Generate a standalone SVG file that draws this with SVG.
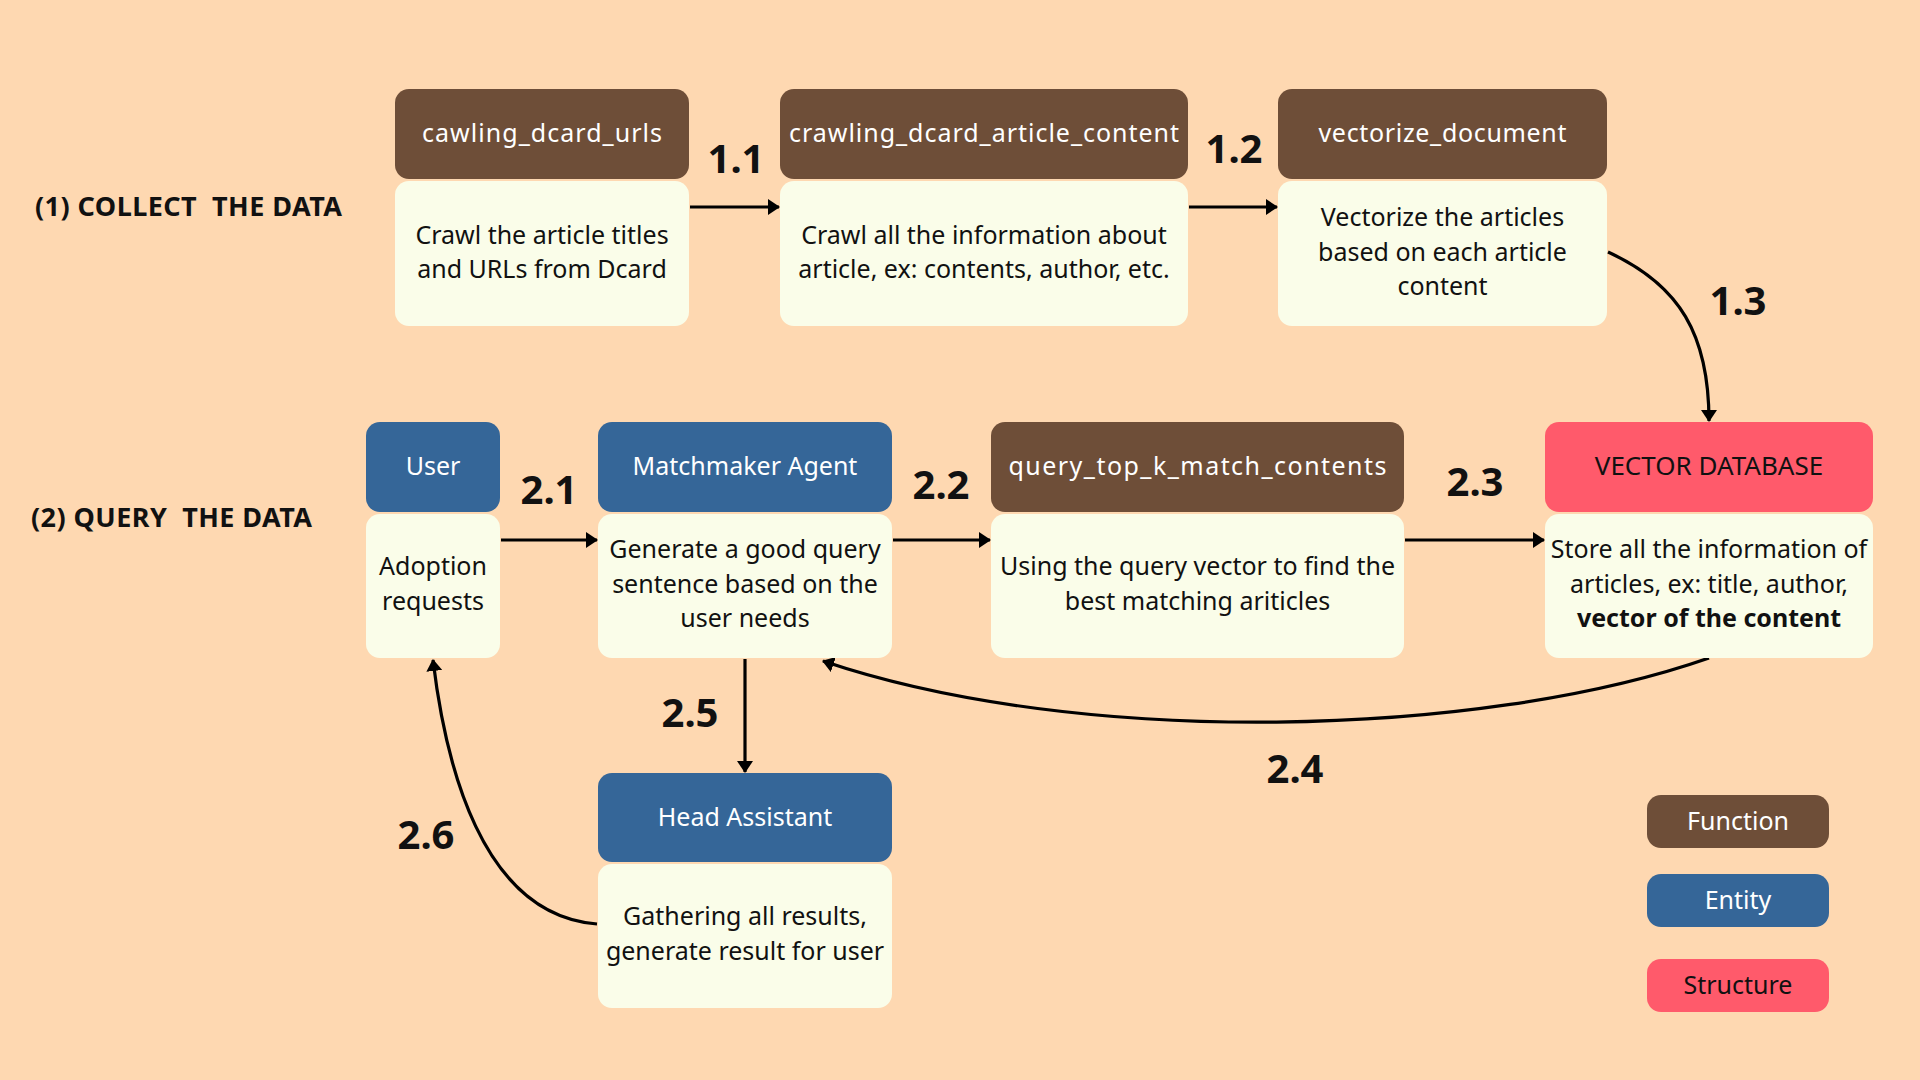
<svg xmlns="http://www.w3.org/2000/svg" width="1920" height="1080" viewBox="0 0 1920 1080">
<defs>
<style>
.bg{fill:#FED8B1}
.fn{fill:#6E4E38}
.en{fill:#356698}
.st{fill:#FF5A6B}
.body{fill:#FAFDE9}
.ht{font-family:"Noto Sans","Open Sans",sans-serif;font-size:25px;fill:#FFFFFF;text-anchor:middle}
.htd{font-family:"Noto Sans","Open Sans",sans-serif;font-size:26px;fill:#111111;text-anchor:middle}
.bt{font-family:"Noto Sans","Open Sans",sans-serif;font-size:25px;fill:#111111;text-anchor:middle}
.btb{font-family:"Noto Sans","Open Sans",sans-serif;font-size:25px;font-weight:bold;fill:#111111;text-anchor:middle}
.sec{font-family:"Noto Sans","Open Sans",sans-serif;font-size:27px;font-weight:bold;fill:#111111;white-space:pre}
.num{font-family:"Noto Sans","Open Sans",sans-serif;font-size:40px;font-weight:bold;fill:#111111;text-anchor:middle}
.lg{font-family:"Noto Sans","Open Sans",sans-serif;font-size:25px;text-anchor:middle}
.con{fill:none;stroke:#000000;stroke-width:3.2}
</style>
<marker id="ah" viewBox="0 0 12 16" refX="11" refY="8" markerWidth="12" markerHeight="16" markerUnits="userSpaceOnUse" orient="auto">
<path d="M0,0 L12,8 L0,16 z" fill="#000000"/>
</marker>
</defs>
<rect class="bg" x="0" y="0" width="1920" height="1080"/>

<text class="sec" x="35" y="216" textLength="307" lengthAdjust="spacing" xml:space="preserve">(1) COLLECT  THE DATA</text>
<text class="sec" x="31" y="527" textLength="281" lengthAdjust="spacing" xml:space="preserve">(2) QUERY  THE DATA</text>

<g id="connectors">
<path class="con" d="M690,207 L779,207" marker-end="url(#ah)"/>
<path class="con" d="M1189,207 L1277,207" marker-end="url(#ah)"/>
<path class="con" d="M1608,252 C1680,285 1709,335 1709,421" marker-end="url(#ah)"/>
<path class="con" d="M501,540 L597,540" marker-end="url(#ah)"/>
<path class="con" d="M893,540 L990,540" marker-end="url(#ah)"/>
<path class="con" d="M1405,540 L1544,540" marker-end="url(#ah)"/>
<path class="con" d="M1709,658 C1480,738 1080,748 823,661" marker-end="url(#ah)"/>
<path class="con" d="M745,659 L745,772" marker-end="url(#ah)"/>
<path class="con" d="M597,924 C480,915 445,760 433,660" marker-end="url(#ah)"/>
<text class="num" x="736" y="173">1.1</text>
<text class="num" x="1234" y="163">1.2</text>
<text class="num" x="1738" y="315">1.3</text>
<text class="num" x="549" y="504">2.1</text>
<text class="num" x="941" y="499">2.2</text>
<text class="num" x="1475" y="496">2.3</text>
<text class="num" x="1295" y="783">2.4</text>
<text class="num" x="690" y="727">2.5</text>
<text class="num" x="426" y="849">2.6</text>
</g>

<g id="node-cawling">
<rect class="fn" x="395" y="89" width="294" height="90" rx="14"/>
<rect class="body" x="395" y="181" width="294" height="145" rx="14"/>
<text class="ht" x="542" y="142" textLength="240" lengthAdjust="spacing">cawling_dcard_urls</text>
<text class="bt" x="542" y="244">Crawl the article titles</text>
<text class="bt" x="542" y="278">and URLs from Dcard</text>
</g>

<g id="node-crawling-content">
<rect class="fn" x="780" y="89" width="408" height="90" rx="14"/>
<rect class="body" x="780" y="181" width="408" height="145" rx="14"/>
<text class="ht" x="984" y="142" textLength="390" lengthAdjust="spacing">crawling_dcard_article_content</text>
<text class="bt" x="984" y="244">Crawl all the information about</text>
<text class="bt" x="984" y="278">article, ex: contents, author, etc.</text>
</g>

<g id="node-vectorize">
<rect class="fn" x="1278" y="89" width="329" height="90" rx="14"/>
<rect class="body" x="1278" y="181" width="329" height="145" rx="14"/>
<text class="ht" x="1442.5" y="142" textLength="248" lengthAdjust="spacing">vectorize_document</text>
<text class="bt" x="1442.5" y="226">Vectorize the articles</text>
<text class="bt" x="1442.5" y="261">based on each article</text>
<text class="bt" x="1442.5" y="295">content</text>
</g>

<g id="node-user">
<rect class="en" x="366" y="422" width="134" height="90" rx="14"/>
<rect class="body" x="366" y="514" width="134" height="144" rx="14"/>
<text class="ht" x="433" y="475">User</text>
<text class="bt" x="433" y="575">Adoption</text>
<text class="bt" x="433" y="610">requests</text>
</g>

<g id="node-matchmaker">
<rect class="en" x="598" y="422" width="294" height="90" rx="14"/>
<rect class="body" x="598" y="514" width="294" height="144" rx="14"/>
<text class="ht" x="745" y="475">Matchmaker Agent</text>
<text class="bt" x="745" y="558">Generate a good query</text>
<text class="bt" x="745" y="593">sentence based on the</text>
<text class="bt" x="745" y="627">user needs</text>
</g>

<g id="node-query">
<rect class="fn" x="991" y="422" width="413" height="90" rx="14"/>
<rect class="body" x="991" y="514" width="413" height="144" rx="14"/>
<text class="ht" x="1197.5" y="475" textLength="378" lengthAdjust="spacing">query_top_k_match_contents</text>
<text class="bt" x="1197.5" y="575">Using the query vector to find the</text>
<text class="bt" x="1197.5" y="610">best matching ariticles</text>
</g>

<g id="node-vdb">
<rect class="st" x="1545" y="422" width="328" height="90" rx="14"/>
<rect class="body" x="1545" y="514" width="328" height="144" rx="14"/>
<text class="htd" x="1709" y="475">VECTOR DATABASE</text>
<text class="bt" x="1709" y="558">Store all the information of</text>
<text class="bt" x="1709" y="593">articles, ex: title, author,</text>
<text class="btb" x="1709" y="627">vector of the content</text>
</g>

<g id="node-head">
<rect class="en" x="598" y="773" width="294" height="89" rx="14"/>
<rect class="body" x="598" y="864" width="294" height="144" rx="14"/>
<text class="ht" x="745" y="826">Head Assistant</text>
<text class="bt" x="745" y="925">Gathering all results,</text>
<text class="bt" x="745" y="960">generate result for user</text>
</g>

<g id="legend">
<rect class="fn" x="1647" y="795" width="182" height="53" rx="14"/>
<text class="lg" x="1738" y="830" fill="#FFFFFF">Function</text>
<rect class="en" x="1647" y="874" width="182" height="53" rx="14"/>
<text class="lg" x="1738" y="909" fill="#FFFFFF">Entity</text>
<rect class="st" x="1647" y="959" width="182" height="53" rx="14"/>
<text class="lg" x="1738" y="994" fill="#111111">Structure</text>
</g>
</svg>
